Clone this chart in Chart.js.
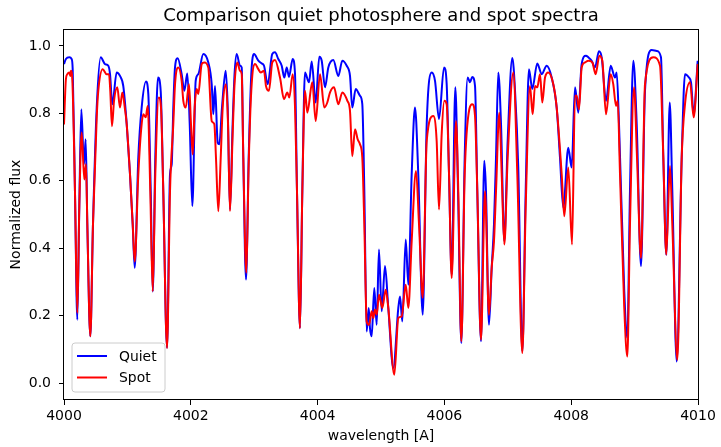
<!DOCTYPE html>
<html>
<head>
<meta charset="utf-8">
<script src="https://cdn.jsdelivr.net/npm/chart.js@4.4.0/dist/chart.umd.min.js"></script>
<style>
  html, body { margin: 0; padding: 0; background: #fff; }
  #wrap { width: 721px; height: 447px; }
</style>
</head>
<body>
<div id="wrap"><canvas id="c" width="721" height="447"></canvas></div>
<script>
// spectra (wavelength in A, normalized flux)
const quietWave = [
  4000.00, 4000.03, 4000.084, 4000.12, 4000.137, 4000.173, 4000.21, 4000.241, 4000.273, 4000.315,
  4000.342, 4000.368, 4000.415, 4000.457, 4000.516, 4000.579, 4000.647, 4000.699, 4000.726, 4000.762,
  4000.831, 4000.883, 4000.935, 4000.989, 4001.041, 4001.084, 4001.115, 4001.172, 4001.225, 4001.293,
  4001.33, 4001.368, 4001.40, 4001.44, 4001.483, 4001.525, 4001.566, 4001.625, 4001.672, 4001.699,
  4001.724, 4001.751, 4001.793, 4001.856, 4001.898, 4001.945, 4001.983, 4002.024, 4002.077, 4002.118,
  4002.197, 4002.276, 4002.33, 4002.355, 4002.382, 4002.424, 4002.45, 4002.492, 4002.55, 4002.582,
  4002.618, 4002.66, 4002.69, 4002.724, 4002.776, 4002.803, 4002.828, 4002.871, 4002.913, 4002.954,
  4002.997, 4003.065, 4003.118, 4003.155, 4003.213, 4003.285, 4003.328, 4003.38, 4003.434, 4003.475,
  4003.513, 4003.549, 4003.607, 4003.644, 4003.675, 4003.722, 4003.759, 4003.801, 4003.864, 4003.907,
  4003.97, 4004.027, 4004.065, 4004.117, 4004.169, 4004.248, 4004.327, 4004.39, 4004.459, 4004.511,
  4004.547, 4004.601, 4004.669, 4004.705, 4004.737, 4004.774, 4004.806, 4004.826, 4004.853, 4004.894,
  4004.932, 4004.968, 4005.011, 4005.063, 4005.115, 4005.194, 4005.273, 4005.30, 4005.336, 4005.39,
  4005.431, 4005.484, 4005.536, 4005.588, 4005.658, 4005.721, 4005.80, 4005.852, 4005.915, 4005.994,
  4006.036, 4006.073, 4006.115, 4006.172, 4006.215, 4006.267, 4006.32, 4006.367, 4006.404, 4006.44,
  4006.483, 4006.519, 4006.577, 4006.629, 4006.656, 4006.703, 4006.746, 4006.782, 4006.814, 4006.85,
  4006.893, 4006.945, 4006.998, 4007.071, 4007.114, 4007.165, 4007.229, 4007.282, 4007.334, 4007.386,
  4007.465, 4007.535, 4007.613, 4007.692, 4007.771, 4007.823, 4007.875, 4007.954, 4008.007, 4008.06,
  4008.112, 4008.165, 4008.233, 4008.27, 4008.323, 4008.375, 4008.438, 4008.481, 4008.549, 4008.623,
  4008.691, 4008.717, 4008.754, 4008.837, 4008.885, 4008.927, 4008.98, 4009.033, 4009.101, 4009.164,
  4009.27, 4009.349, 4009.416, 4009.453, 4009.50, 4009.554, 4009.595, 4009.664, 4009.743, 4009.795,
  4009.858, 4009.89, 4009.932, 4009.995
];
const quietFlux = [
  0.946, 0.961, 0.966, 0.961, 0.931, 0.569, 0.188, 0.52, 0.812, 0.649,
  0.723, 0.47, 0.139, 0.47, 0.817, 0.966, 0.946, 0.941, 0.916, 0.827,
  0.921, 0.911, 0.881, 0.768, 0.619, 0.47, 0.342, 0.669, 0.817, 0.894,
  0.857, 0.569, 0.272, 0.669, 0.906, 0.867, 0.569, 0.105, 0.619, 0.649,
  0.817, 0.936, 0.963, 0.916, 0.867, 0.918, 0.768, 0.525, 0.896, 0.916,
  0.976, 0.951, 0.886, 0.797, 0.881, 0.713, 0.708, 0.817, 0.926, 0.817,
  0.515, 0.768, 0.916, 0.976, 0.941, 0.936, 0.669, 0.307, 0.669, 0.916,
  0.976, 0.956, 0.948, 0.941, 0.886, 0.976, 0.981, 0.961, 0.941, 0.906,
  0.936, 0.908, 0.961, 0.916, 0.569, 0.163, 0.569, 0.921, 0.892, 0.954,
  0.832, 0.968, 0.956, 0.877, 0.936, 0.958, 0.911, 0.956, 0.941, 0.911,
  0.817, 0.872, 0.852, 0.827, 0.569, 0.153, 0.223, 0.163, 0.139, 0.282,
  0.173, 0.396, 0.213, 0.347, 0.223, 0.045, 0.223, 0.257, 0.183, 0.426,
  0.292, 0.619, 0.817, 0.619, 0.203, 0.768, 0.921, 0.896, 0.783, 0.936,
  0.886, 0.619, 0.322, 0.877, 0.569, 0.119, 0.669, 0.906, 0.892, 0.908,
  0.881, 0.569, 0.124, 0.659, 0.569, 0.173, 0.342, 0.47, 0.669, 0.921,
  0.768, 0.421, 0.718, 0.964, 0.867, 0.639, 0.094, 0.569, 0.931, 0.872,
  0.948, 0.916, 0.941, 0.906, 0.817, 0.669, 0.52, 0.698, 0.639, 0.877,
  0.802, 0.946, 0.971, 0.966, 0.956, 0.936, 0.984, 0.966, 0.837, 0.941,
  0.906, 0.921, 0.768, 0.272, 0.134, 0.569, 0.956, 0.768, 0.347, 0.867,
  0.988, 0.985, 0.966, 0.669, 0.381, 0.832, 0.569, 0.064, 0.669, 0.916,
  0.906, 0.892, 0.797, 0.956
];
const spotWave = [
  4000.00, 4000.03, 4000.052, 4000.084, 4000.10, 4000.11, 4000.131, 4000.173, 4000.21, 4000.241,
  4000.279, 4000.32, 4000.347, 4000.368, 4000.415, 4000.457, 4000.516, 4000.541, 4000.61, 4000.673,
  4000.71, 4000.73, 4000.757, 4000.789, 4000.841, 4000.883, 4000.92, 4000.962, 4000.989, 4001.041,
  4001.084, 4001.115, 4001.172, 4001.215, 4001.251, 4001.289, 4001.32, 4001.361, 4001.40, 4001.44,
  4001.494, 4001.53, 4001.566, 4001.625, 4001.672, 4001.724, 4001.751, 4001.803, 4001.856, 4001.882,
  4001.92, 4001.972, 4002.003, 4002.03, 4002.061, 4002.093, 4002.118, 4002.172, 4002.213, 4002.276,
  4002.33, 4002.371, 4002.397, 4002.434, 4002.472, 4002.503, 4002.555, 4002.587, 4002.618, 4002.66,
  4002.69, 4002.734, 4002.776, 4002.803, 4002.828, 4002.876, 4002.913, 4002.954, 4003.013, 4003.065,
  4003.103, 4003.155, 4003.186, 4003.233, 4003.285, 4003.328, 4003.407, 4003.47, 4003.522, 4003.554,
  4003.607, 4003.644, 4003.675, 4003.722, 4003.759, 4003.801, 4003.838, 4003.916, 4003.97, 4004.038,
  4004.106, 4004.153, 4004.196, 4004.259, 4004.327, 4004.39, 4004.47, 4004.511, 4004.547, 4004.59,
  4004.632, 4004.669, 4004.705, 4004.737, 4004.774, 4004.811, 4004.853, 4004.879, 4004.905, 4004.932,
  4004.968, 4005.021, 4005.074, 4005.115, 4005.21, 4005.273, 4005.326, 4005.39, 4005.431, 4005.484,
  4005.552, 4005.60, 4005.658, 4005.721, 4005.825, 4005.878, 4005.915, 4005.957, 4005.999, 4006.036,
  4006.073, 4006.115, 4006.183, 4006.219, 4006.267, 4006.32, 4006.393, 4006.44, 4006.483, 4006.519,
  4006.577, 4006.64, 4006.703, 4006.746, 4006.782, 4006.814, 4006.866, 4006.904, 4006.945, 4006.998,
  4007.087, 4007.15, 4007.229, 4007.282, 4007.35, 4007.392, 4007.429, 4007.465, 4007.508, 4007.544,
  4007.587, 4007.639, 4007.718, 4007.771, 4007.85, 4007.891, 4007.954, 4008.013, 4008.06, 4008.087,
  4008.123, 4008.165, 4008.218, 4008.27, 4008.333, 4008.386, 4008.444, 4008.491, 4008.549, 4008.623,
  4008.664, 4008.707, 4008.733, 4008.77, 4008.837, 4008.885, 4008.927, 4008.991, 4009.038, 4009.101,
  4009.164, 4009.295, 4009.401, 4009.453, 4009.50, 4009.558, 4009.595, 4009.674, 4009.743, 4009.795,
  4009.874, 4009.932, 4009.995
];
const spotFlux = [
  0.767, 0.901, 0.916, 0.921, 0.911, 0.926, 0.901, 0.569, 0.208, 0.521,
  0.743, 0.604, 0.649, 0.47, 0.139, 0.47, 0.788, 0.867, 0.931, 0.916,
  0.916, 0.867, 0.762, 0.837, 0.877, 0.817, 0.862, 0.812, 0.768, 0.619,
  0.47, 0.361, 0.619, 0.748, 0.797, 0.788, 0.822, 0.569, 0.272, 0.619,
  0.847, 0.817, 0.569, 0.104, 0.569, 0.768, 0.886, 0.936, 0.896, 0.837,
  0.817, 0.886, 0.768, 0.678, 0.817, 0.872, 0.857, 0.946, 0.951, 0.936,
  0.777, 0.768, 0.669, 0.51, 0.669, 0.817, 0.886, 0.768, 0.51, 0.738,
  0.886, 0.951, 0.926, 0.916, 0.669, 0.327, 0.649, 0.867, 0.946, 0.931,
  0.921, 0.926, 0.881, 0.867, 0.951, 0.958, 0.906, 0.842, 0.862, 0.847,
  0.916, 0.817, 0.569, 0.163, 0.569, 0.867, 0.802, 0.892, 0.777, 0.916,
  0.817, 0.832, 0.862, 0.877, 0.827, 0.862, 0.837, 0.807, 0.673, 0.753,
  0.723, 0.708, 0.669, 0.47, 0.183, 0.173, 0.213, 0.193, 0.218, 0.203,
  0.262, 0.223, 0.277, 0.223, 0.025, 0.193, 0.198, 0.292, 0.223, 0.421,
  0.629, 0.47, 0.253, 0.718, 0.792, 0.718, 0.515, 0.738, 0.837, 0.827,
  0.619, 0.312, 0.777, 0.569, 0.124, 0.619, 0.812, 0.827, 0.792, 0.569,
  0.129, 0.569, 0.203, 0.342, 0.421, 0.569, 0.802, 0.619, 0.411, 0.669,
  0.921, 0.619, 0.089, 0.52, 0.881, 0.797, 0.881, 0.877, 0.916, 0.832,
  0.906, 0.921, 0.886, 0.817, 0.619, 0.495, 0.639, 0.411, 0.852, 0.852,
  0.812, 0.936, 0.951, 0.956, 0.951, 0.916, 0.971, 0.956, 0.797, 0.916,
  0.886, 0.822, 0.837, 0.619, 0.223, 0.079, 0.47, 0.877, 0.669, 0.371,
  0.886, 0.966, 0.941, 0.669, 0.381, 0.644, 0.47, 0.069, 0.669, 0.827,
  0.892, 0.788, 0.946
];
const seriesNames = ['Quiet', 'Spot'];
const xTicks = [4000, 4002, 4004, 4006, 4008, 4010];
const yTicks = [0.0, 0.2, 0.4, 0.6, 0.8, 1.0];
const chartTitle = 'Comparison quiet photosphere and spot spectra';

const FONT = 'DejaVu Sans';
const pts = (xs, ys) => xs.map((x, i) => ({ x, y: ys[i] }));

// title centred over the axes, frame on all four sides, legend box lower left (matplotlib style)
const mplExtras = {
  id: 'mplExtras',
  afterDraw(chart) {
    const { ctx, chartArea: a } = chart;
    ctx.save();
    ctx.fillStyle = '#000';
    ctx.font = '18px "' + FONT + '"';
    ctx.textAlign = 'center';
    ctx.textBaseline = 'alphabetic';
    ctx.fillText(chartTitle, (a.left + a.right) / 2, 21);

    ctx.strokeStyle = '#000';
    ctx.lineWidth = 1;
    ctx.strokeRect(Math.round(a.left) - 0.5, Math.round(a.top) + 0.5, Math.round(a.right - a.left) + 1, Math.round(a.bottom - a.top) - 1);

    // legend
    const bx = 72, by = 343, bw = 93, bh = 49, r = 3;
    ctx.beginPath();
    ctx.moveTo(bx + r, by);
    ctx.arcTo(bx + bw, by, bx + bw, by + bh, r);
    ctx.arcTo(bx + bw, by + bh, bx, by + bh, r);
    ctx.arcTo(bx, by + bh, bx, by, r);
    ctx.arcTo(bx, by, bx + bw, by, r);
    ctx.closePath();
    ctx.fillStyle = 'rgba(255,255,255,0.8)';
    ctx.fill();
    ctx.strokeStyle = '#cccccc';
    ctx.stroke();
    ctx.font = '13.9px "' + FONT + '"';
    ctx.textBaseline = 'middle';
    ctx.textAlign = 'left';
    chart.data.datasets.forEach((ds, i) => {
      const ly = by + 13 + i * 21.5;
      ctx.strokeStyle = ds.borderColor;
      ctx.lineWidth = 2;
      ctx.beginPath();
      ctx.moveTo(bx + 5, ly);
      ctx.lineTo(bx + 35, ly);
      ctx.stroke();
      ctx.fillStyle = '#000';
      ctx.fillText(ds.label, bx + 47, ly + 1);
    });
    ctx.restore();
  }
};

new Chart(document.getElementById('c'), {
  type: 'line',
  data: {
    datasets: [
      { label: seriesNames[0], data: pts(quietWave, quietFlux), borderColor: '#0000ff', order: 1 },
      { label: seriesNames[1], data: pts(spotWave, spotFlux), borderColor: '#ff0000', order: 0 }
    ]
  },
  options: {
    responsive: false,
    animation: false,
    devicePixelRatio: 1,
    layout: { padding: { left: 0, right: 23, top: 29, bottom: 0 } },
    elements: {
      line: { borderWidth: 2, cubicInterpolationMode: 'monotone', fill: false },
      point: { radius: 0 }
    },
    plugins: {
      legend: { display: false },
      tooltip: { enabled: false },
      title: { display: false }
    },
    scales: {
      x: {
        type: 'linear',
        min: 4000,
        max: 4010,
        afterBuildTicks: s => { s.ticks = xTicks.map(v => ({ value: v })); },
        afterFit: s => { s.height = 47; },
        grid: { display: true, drawOnChartArea: false, drawTicks: true, tickLength: 5, tickColor: '#000' },
        border: { display: false },
        ticks: { color: '#000', font: { family: FONT, size: 14 }, padding: 3, maxRotation: 0, callback: v => String(v) },
        title: { display: true, text: 'wavelength [A]', color: '#000', font: { family: FONT, size: 14 }, padding: { top: 0, bottom: 2 } }
      },
      y: {
        min: -0.05,
        max: 1.05,
        afterBuildTicks: s => { s.ticks = yTicks.map(v => ({ value: v })); },
        afterFit: s => { s.width = 64; },
        grid: { display: true, drawOnChartArea: false, drawTicks: true, tickLength: 5, tickColor: '#000' },
        border: { display: false },
        ticks: { color: '#000', font: { family: FONT, size: 14 }, padding: 8, callback: v => v.toFixed(1) },
        title: { display: true, text: 'Normalized flux', color: '#000', font: { family: FONT, size: 14 }, padding: { top: 8, bottom: 0 } }
      }
    }
  },
  plugins: [mplExtras]
});
</script>
</body>
</html>
